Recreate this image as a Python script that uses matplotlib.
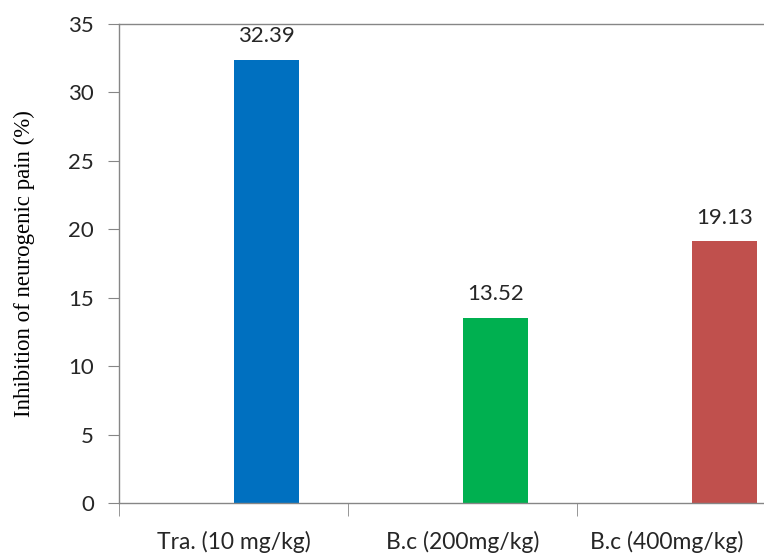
import matplotlib
matplotlib.use('Agg')
import matplotlib.pyplot as plt
import numpy as np

# data
categories = ['Tra. (10 mg/kg)', 'B.c (200mg/kg)', 'B.c (400mg/kg)']
values = [32.39, 13.52, 19.13]
bar_colors = ['#0070C0', '#00B050', '#C0504D']
ylabel = 'Inhibition of neurogenic pain (%)'

axis_gray = '#868686'
txt = '#262626'

fig = plt.figure(figsize=(7.64, 5.54), dpi=100)
# axes run past the right edge on purpose (the reference is cropped there)
ax = fig.add_axes([119 / 764, 1 - 503 / 554, 687 / 764, (503 - 24) / 554])

x = np.arange(len(categories))
bars = ax.bar(x, values, width=0.285, align='edge', color=bar_colors)

for b, v in zip(bars, values):
    ax.text(b.get_x() + b.get_width() / 2, v + 1.0, '%.2f' % v,
            ha='center', va='bottom', fontsize=16, family='Lato', color=txt)

ax.set_xlim(-0.5, len(categories) - 0.5)
ax.set_ylim(0, 35)
ax.set_yticks(np.arange(0, 36, 5))
# last label pulled left a bit so it stays inside the cropped figure
ax.set_xticks(x - np.array([0, 0, 0.11]))
ax.set_xticklabels(categories, fontsize=16.5, family='Lato', color=txt)
ax.set_xticks(np.arange(-0.5, len(categories), 1), minor=True)
ax.tick_params(axis='x', which='major', length=0, pad=20)
ax.tick_params(axis='x', which='minor', length=9, color=axis_gray, direction='out')
ax.tick_params(axis='y', length=8, color=axis_gray, labelsize=16, labelcolor=txt, pad=10)
for lab in ax.get_yticklabels():
    lab.set_family('Lato')

for side in ['left', 'bottom', 'top', 'right']:
    ax.spines[side].set_color(axis_gray)
    ax.spines[side].set_linewidth(1)

ax.set_ylabel(ylabel, family='Liberation Serif', fontsize=16.5, labelpad=24)

fig.savefig('out.png', dpi=100)
